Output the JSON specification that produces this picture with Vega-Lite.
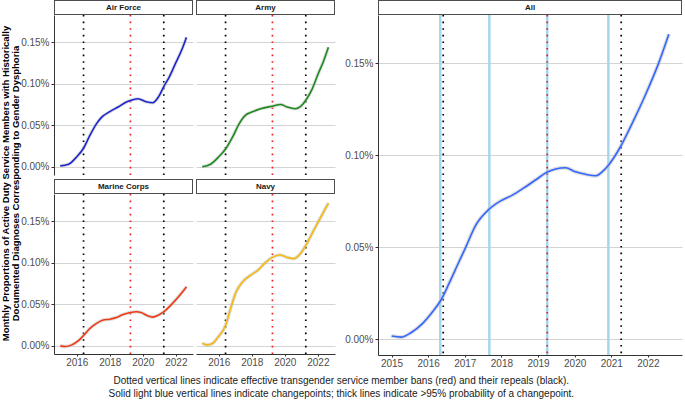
{
  "$schema": "https://vega.github.io/schema/vega-lite/v6.json",
  "background": "white",
  "padding": {"left": 0, "right": 1, "top": 0, "bottom": 0},
  "config": {
    "font": "Liberation Sans",
    "axis": {
      "labelFontSize": 10,
      "labelColor": "#4d4d4d",
      "domainColor": "#333333",
      "tickColor": "#333333",
      "tickSize": 3,
      "labelPadding": 2,
      "gridColor": "#d4d4d4",
      "gridWidth": 1
    },
    "axisX": {"tickSize": 2, "labelPadding": 1}
  },
  "title": {
    "text": [
      "Dotted vertical lines indicate effective transgender service member bans (red) and their repeals (black).",
      "Solid light blue vertical lines indicate changepoints; thick lines indicate >95% probability of a changepoint."
    ],
    "orient": "bottom",
    "anchor": "middle",
    "fontSize": 10,
    "fontWeight": "normal",
    "color": "#1a1a1a",
    "lineHeight": 13,
    "offset": 8
  },
  "datasets": {
    "panels": [
      {"panel": "Air Force"},
      {"panel": "Army"},
      {"panel": "Marine Corps"},
      {"panel": "Navy"},
      {"panel": "All"}
    ],
    "events": [
      {"year": 2016.41, "kind": "repeal"},
      {"year": 2019.25, "kind": "ban"},
      {"year": 2021.27, "kind": "repeal"}
    ],
    "changepoints": [
      {"year": 2016.33},
      {"year": 2017.67},
      {"year": 2019.25},
      {"year": 2020.92}
    ],
    "series": [
      {"panel": "Air Force", "year": 2015.0, "value": 0.001},
      {"panel": "Air Force", "year": 2015.5, "value": 0.003},
      {"panel": "Air Force", "year": 2016.0, "value": 0.012},
      {"panel": "Air Force", "year": 2016.4, "value": 0.022},
      {"panel": "Air Force", "year": 2016.8, "value": 0.038},
      {"panel": "Air Force", "year": 2017.2, "value": 0.052},
      {"panel": "Air Force", "year": 2017.5, "value": 0.0595},
      {"panel": "Air Force", "year": 2018.0, "value": 0.0664},
      {"panel": "Air Force", "year": 2018.5, "value": 0.072},
      {"panel": "Air Force", "year": 2019.0, "value": 0.078},
      {"panel": "Air Force", "year": 2019.25, "value": 0.080},
      {"panel": "Air Force", "year": 2019.7, "value": 0.082},
      {"panel": "Air Force", "year": 2020.2, "value": 0.0784},
      {"panel": "Air Force", "year": 2020.6, "value": 0.0772},
      {"panel": "Air Force", "year": 2020.96, "value": 0.0845},
      {"panel": "Air Force", "year": 2021.28, "value": 0.097},
      {"panel": "Air Force", "year": 2021.6, "value": 0.108},
      {"panel": "Air Force", "year": 2022.0, "value": 0.1255},
      {"panel": "Air Force", "year": 2022.36, "value": 0.141},
      {"panel": "Air Force", "year": 2022.64, "value": 0.156},
      {"panel": "Army", "year": 2015.0, "value": 0.000},
      {"panel": "Army", "year": 2015.5, "value": 0.003},
      {"panel": "Army", "year": 2016.0, "value": 0.012},
      {"panel": "Army", "year": 2016.4, "value": 0.021},
      {"panel": "Army", "year": 2016.84, "value": 0.036},
      {"panel": "Army", "year": 2017.24, "value": 0.052},
      {"panel": "Army", "year": 2017.64, "value": 0.0625},
      {"panel": "Army", "year": 2018.0, "value": 0.066},
      {"panel": "Army", "year": 2018.54, "value": 0.070},
      {"panel": "Army", "year": 2019.24, "value": 0.073},
      {"panel": "Army", "year": 2019.74, "value": 0.075},
      {"panel": "Army", "year": 2020.14, "value": 0.072},
      {"panel": "Army", "year": 2020.64, "value": 0.070},
      {"panel": "Army", "year": 2020.98, "value": 0.073},
      {"panel": "Army", "year": 2021.3, "value": 0.081},
      {"panel": "Army", "year": 2021.64, "value": 0.093},
      {"panel": "Army", "year": 2022.04, "value": 0.113},
      {"panel": "Army", "year": 2022.34, "value": 0.127},
      {"panel": "Army", "year": 2022.64, "value": 0.144},
      {"panel": "Marine Corps", "year": 2015.0, "value": 0.000},
      {"panel": "Marine Corps", "year": 2015.3, "value": -0.001},
      {"panel": "Marine Corps", "year": 2015.7, "value": 0.001},
      {"panel": "Marine Corps", "year": 2016.1, "value": 0.006},
      {"panel": "Marine Corps", "year": 2016.4, "value": 0.012},
      {"panel": "Marine Corps", "year": 2016.8, "value": 0.021},
      {"panel": "Marine Corps", "year": 2017.2, "value": 0.027},
      {"panel": "Marine Corps", "year": 2017.6, "value": 0.031},
      {"panel": "Marine Corps", "year": 2018.0, "value": 0.032},
      {"panel": "Marine Corps", "year": 2018.4, "value": 0.034},
      {"panel": "Marine Corps", "year": 2018.8, "value": 0.0375},
      {"panel": "Marine Corps", "year": 2019.24, "value": 0.040},
      {"panel": "Marine Corps", "year": 2019.6, "value": 0.041},
      {"panel": "Marine Corps", "year": 2019.9, "value": 0.040},
      {"panel": "Marine Corps", "year": 2020.3, "value": 0.036},
      {"panel": "Marine Corps", "year": 2020.6, "value": 0.0345},
      {"panel": "Marine Corps", "year": 2020.96, "value": 0.037},
      {"panel": "Marine Corps", "year": 2021.28, "value": 0.041},
      {"panel": "Marine Corps", "year": 2021.7, "value": 0.049},
      {"panel": "Marine Corps", "year": 2022.2, "value": 0.060},
      {"panel": "Marine Corps", "year": 2022.64, "value": 0.071},
      {"panel": "Navy", "year": 2015.0, "value": 0.003},
      {"panel": "Navy", "year": 2015.3, "value": 0.001},
      {"panel": "Navy", "year": 2015.64, "value": 0.003},
      {"panel": "Navy", "year": 2015.94, "value": 0.010},
      {"panel": "Navy", "year": 2016.4, "value": 0.024},
      {"panel": "Navy", "year": 2016.74, "value": 0.0465},
      {"panel": "Navy", "year": 2017.04, "value": 0.0645},
      {"panel": "Navy", "year": 2017.44, "value": 0.077},
      {"panel": "Navy", "year": 2018.0, "value": 0.086},
      {"panel": "Navy", "year": 2018.34, "value": 0.0905},
      {"panel": "Navy", "year": 2018.84, "value": 0.1005},
      {"panel": "Navy", "year": 2019.24, "value": 0.1065},
      {"panel": "Navy", "year": 2019.7, "value": 0.1095},
      {"panel": "Navy", "year": 2020.14, "value": 0.1065},
      {"panel": "Navy", "year": 2020.54, "value": 0.105},
      {"panel": "Navy", "year": 2020.94, "value": 0.111},
      {"panel": "Navy", "year": 2021.3, "value": 0.122},
      {"panel": "Navy", "year": 2021.64, "value": 0.135},
      {"panel": "Navy", "year": 2022.04, "value": 0.150},
      {"panel": "Navy", "year": 2022.64, "value": 0.172},
      {"panel": "All", "year": 2015.0, "value": 0.0018},
      {"panel": "All", "year": 2015.26, "value": 0.0012},
      {"panel": "All", "year": 2015.53, "value": 0.0036},
      {"panel": "All", "year": 2015.85, "value": 0.0087},
      {"panel": "All", "year": 2016.12, "value": 0.015},
      {"panel": "All", "year": 2016.35, "value": 0.0214},
      {"panel": "All", "year": 2016.57, "value": 0.0304},
      {"panel": "All", "year": 2016.8, "value": 0.0404},
      {"panel": "All", "year": 2017.03, "value": 0.0503},
      {"panel": "All", "year": 2017.3, "value": 0.0621},
      {"panel": "All", "year": 2017.66, "value": 0.0707},
      {"panel": "All", "year": 2017.98, "value": 0.0753},
      {"panel": "All", "year": 2018.3, "value": 0.0784},
      {"panel": "All", "year": 2018.6, "value": 0.0822},
      {"panel": "All", "year": 2018.93, "value": 0.0866},
      {"panel": "All", "year": 2019.24, "value": 0.0908},
      {"panel": "All", "year": 2019.48, "value": 0.0926},
      {"panel": "All", "year": 2019.75, "value": 0.0933},
      {"panel": "All", "year": 2020.02, "value": 0.0911},
      {"panel": "All", "year": 2020.3, "value": 0.0897},
      {"panel": "All", "year": 2020.57, "value": 0.0889},
      {"panel": "All", "year": 2020.8, "value": 0.092},
      {"panel": "All", "year": 2020.91, "value": 0.0944},
      {"panel": "All", "year": 2021.25, "value": 0.1047},
      {"panel": "All", "year": 2021.57, "value": 0.1174},
      {"panel": "All", "year": 2021.93, "value": 0.1328},
      {"panel": "All", "year": 2022.29, "value": 0.150},
      {"panel": "All", "year": 2022.57, "value": 0.1658}
    ]
  },
  "spacing": 9,
  "hconcat": [
    {
      "title": {
        "text": [
          "Monthly Proportions of Active Duty Service Members with Historically",
          "Documented Diagnoses Corresponding to Gender Dysphoria"
        ],
        "orient": "left",
        "anchor": "middle",
        "fontSize": 9.5,
        "fontWeight": "bold",
        "color": "#000000",
        "lineHeight": 10.5,
        "offset": 0
      },
      "spacing": 4,
      "vconcat": [
        {
          "spacing": 3,
          "hconcat": [
            {
              "spacing": -1,
              "vconcat": [
                {
                  "width": 139, "height": 15,
                  "data": {"name": "panels"},
                  "transform": [{"filter": "datum.panel === 'Air Force'"}],
                  "view": {"stroke": null},
                  "layer": [
                    {"mark": {"type": "rect", "fill": "white", "stroke": "#4d4d4d", "strokeWidth": 2, "clip": true}, "encoding": {}},
                    {"mark": {"type": "text", "fontSize": 8, "fontWeight": "bold", "color": "#1a1a1a"}, "encoding": {"text": {"field": "panel", "type": "nominal"}}}
                  ]
                },
                {
                  "width": 139, "height": 160,
                  "view": {"stroke": null},
                  "layer": [
                    {
                      "data": {"name": "events"},
                      "mark": {"type": "rule", "strokeDash": [1.6, 5], "strokeWidth": 1.7, "clip": true},
                      "encoding": {
                        "x": {"field": "year", "type": "quantitative", "scale": {"domain": [2014.62, 2023.04], "nice": false, "zero": false}, "axis": null},
                        "color": {"field": "kind", "type": "nominal", "scale": {"domain": ["ban", "repeal"], "range": ["#f01e1e", "#000000"]}, "legend": null}
                      }
                    },
                    {
                      "data": {"name": "series"},
                      "transform": [{"filter": "datum.panel === 'Air Force'"}],
                      "mark": {"type": "line", "interpolate": "monotone", "color": "#bdbdbd", "strokeWidth": 3.5, "opacity": 0.5, "clip": true},
                      "encoding": {
                        "x": {"field": "year", "type": "quantitative"},
                        "y": {"field": "value", "type": "quantitative", "scale": {"domain": [-0.010, 0.183], "nice": false, "zero": false},
                          "axis": {"values": [0, 0.05, 0.1, 0.15], "labelExpr": "format(datum.value, '.2f') + '%'", "title": null, "grid": true}}
                      }
                    },
                    {
                      "data": {"name": "series"},
                      "transform": [{"filter": "datum.panel === 'Air Force'"}],
                      "mark": {"type": "line", "interpolate": "monotone", "color": "#1c24cf", "strokeWidth": 1.6, "clip": true},
                      "encoding": {
                        "x": {"field": "year", "type": "quantitative"},
                        "y": {"field": "value", "type": "quantitative"}
                      }
                    }
                  ]
                }
              ]
            },
            {
              "spacing": -1,
              "vconcat": [
                {
                  "width": 139, "height": 15,
                  "data": {"name": "panels"},
                  "transform": [{"filter": "datum.panel === 'Army'"}],
                  "view": {"stroke": null},
                  "layer": [
                    {"mark": {"type": "rect", "fill": "white", "stroke": "#4d4d4d", "strokeWidth": 2, "clip": true}, "encoding": {}},
                    {"mark": {"type": "text", "fontSize": 8, "fontWeight": "bold", "color": "#1a1a1a"}, "encoding": {"text": {"field": "panel", "type": "nominal"}}}
                  ]
                },
                {
                  "width": 139, "height": 160,
                  "view": {"stroke": null},
                  "layer": [
                    {
                      "data": {"name": "events"},
                      "mark": {"type": "rule", "strokeDash": [1.6, 5], "strokeWidth": 1.7, "clip": true},
                      "encoding": {
                        "x": {"field": "year", "type": "quantitative", "scale": {"domain": [2014.62, 2023.04], "nice": false, "zero": false}, "axis": null},
                        "color": {"field": "kind", "type": "nominal", "scale": {"domain": ["ban", "repeal"], "range": ["#f01e1e", "#000000"]}, "legend": null}
                      }
                    },
                    {
                      "data": {"name": "series"},
                      "transform": [{"filter": "datum.panel === 'Army'"}],
                      "mark": {"type": "line", "interpolate": "monotone", "color": "#bdbdbd", "strokeWidth": 3.5, "opacity": 0.5, "clip": true},
                      "encoding": {
                        "x": {"field": "year", "type": "quantitative"},
                        "y": {"field": "value", "type": "quantitative", "scale": {"domain": [-0.010, 0.183], "nice": false, "zero": false},
                          "axis": {"values": [0, 0.05, 0.1, 0.15], "labels": false, "ticks": false, "domain": false, "title": null, "grid": true, "minExtent": 0, "maxExtent": 0}}
                      }
                    },
                    {
                      "data": {"name": "series"},
                      "transform": [{"filter": "datum.panel === 'Army'"}],
                      "mark": {"type": "line", "interpolate": "monotone", "color": "#1e8a1e", "strokeWidth": 1.6, "clip": true},
                      "encoding": {
                        "x": {"field": "year", "type": "quantitative"},
                        "y": {"field": "value", "type": "quantitative"}
                      }
                    }
                  ]
                }
              ]
            }
          ]
        },
        {
          "spacing": 3,
          "hconcat": [
            {
              "spacing": -1,
              "vconcat": [
                {
                  "width": 139, "height": 15,
                  "data": {"name": "panels"},
                  "transform": [{"filter": "datum.panel === 'Marine Corps'"}],
                  "view": {"stroke": null},
                  "layer": [
                    {"mark": {"type": "rect", "fill": "white", "stroke": "#4d4d4d", "strokeWidth": 2, "clip": true}, "encoding": {}},
                    {"mark": {"type": "text", "fontSize": 8, "fontWeight": "bold", "color": "#1a1a1a"}, "encoding": {"text": {"field": "panel", "type": "nominal"}}}
                  ]
                },
                {
                  "width": 139, "height": 160,
                  "view": {"stroke": null},
                  "layer": [
                    {
                      "data": {"name": "events"},
                      "mark": {"type": "rule", "strokeDash": [1.6, 5], "strokeWidth": 1.7, "clip": true},
                      "encoding": {
                        "x": {"field": "year", "type": "quantitative", "scale": {"domain": [2014.62, 2023.04], "nice": false, "zero": false},
                          "axis": {"values": [2016, 2018, 2020, 2022], "format": "d", "title": null, "grid": false}},
                        "color": {"field": "kind", "type": "nominal", "scale": {"domain": ["ban", "repeal"], "range": ["#f01e1e", "#000000"]}, "legend": null}
                      }
                    },
                    {
                      "data": {"name": "series"},
                      "transform": [{"filter": "datum.panel === 'Marine Corps'"}],
                      "mark": {"type": "line", "interpolate": "monotone", "color": "#bdbdbd", "strokeWidth": 3.5, "opacity": 0.5, "clip": true},
                      "encoding": {
                        "x": {"field": "year", "type": "quantitative"},
                        "y": {"field": "value", "type": "quantitative", "scale": {"domain": [-0.010, 0.183], "nice": false, "zero": false},
                          "axis": {"values": [0, 0.05, 0.1, 0.15], "labelExpr": "format(datum.value, '.2f') + '%'", "title": null, "grid": true}}
                      }
                    },
                    {
                      "data": {"name": "series"},
                      "transform": [{"filter": "datum.panel === 'Marine Corps'"}],
                      "mark": {"type": "line", "interpolate": "monotone", "color": "#ef3b14", "strokeWidth": 1.6, "clip": true},
                      "encoding": {
                        "x": {"field": "year", "type": "quantitative"},
                        "y": {"field": "value", "type": "quantitative"}
                      }
                    }
                  ]
                }
              ]
            },
            {
              "spacing": -1,
              "vconcat": [
                {
                  "width": 139, "height": 15,
                  "data": {"name": "panels"},
                  "transform": [{"filter": "datum.panel === 'Navy'"}],
                  "view": {"stroke": null},
                  "layer": [
                    {"mark": {"type": "rect", "fill": "white", "stroke": "#4d4d4d", "strokeWidth": 2, "clip": true}, "encoding": {}},
                    {"mark": {"type": "text", "fontSize": 8, "fontWeight": "bold", "color": "#1a1a1a"}, "encoding": {"text": {"field": "panel", "type": "nominal"}}}
                  ]
                },
                {
                  "width": 139, "height": 160,
                  "view": {"stroke": null},
                  "layer": [
                    {
                      "data": {"name": "events"},
                      "mark": {"type": "rule", "strokeDash": [1.6, 5], "strokeWidth": 1.7, "clip": true},
                      "encoding": {
                        "x": {"field": "year", "type": "quantitative", "scale": {"domain": [2014.62, 2023.04], "nice": false, "zero": false},
                          "axis": {"values": [2016, 2018, 2020, 2022], "format": "d", "title": null, "grid": false}},
                        "color": {"field": "kind", "type": "nominal", "scale": {"domain": ["ban", "repeal"], "range": ["#f01e1e", "#000000"]}, "legend": null}
                      }
                    },
                    {
                      "data": {"name": "series"},
                      "transform": [{"filter": "datum.panel === 'Navy'"}],
                      "mark": {"type": "line", "interpolate": "monotone", "color": "#bdbdbd", "strokeWidth": 3.5, "opacity": 0.5, "clip": true},
                      "encoding": {
                        "x": {"field": "year", "type": "quantitative"},
                        "y": {"field": "value", "type": "quantitative", "scale": {"domain": [-0.010, 0.183], "nice": false, "zero": false},
                          "axis": {"values": [0, 0.05, 0.1, 0.15], "labels": false, "ticks": false, "domain": false, "title": null, "grid": true, "minExtent": 0, "maxExtent": 0}}
                      }
                    },
                    {
                      "data": {"name": "series"},
                      "transform": [{"filter": "datum.panel === 'Navy'"}],
                      "mark": {"type": "line", "interpolate": "monotone", "color": "#f6b90e", "strokeWidth": 1.6, "clip": true},
                      "encoding": {
                        "x": {"field": "year", "type": "quantitative"},
                        "y": {"field": "value", "type": "quantitative"}
                      }
                    }
                  ]
                }
              ]
            }
          ]
        }
      ]
    },
    {
      "spacing": -1,
      "vconcat": [
        {
          "width": 304, "height": 15,
          "data": {"name": "panels"},
          "transform": [{"filter": "datum.panel === 'All'"}],
          "view": {"stroke": null},
          "layer": [
            {"mark": {"type": "rect", "fill": "white", "stroke": "#4d4d4d", "strokeWidth": 2, "clip": true}, "encoding": {}},
            {"mark": {"type": "text", "fontSize": 8, "fontWeight": "bold", "color": "#1a1a1a"}, "encoding": {"text": {"field": "panel", "type": "nominal"}}}
          ]
        },
        {
          "width": 304, "height": 340,
          "view": {"stroke": null},
          "layer": [
            {
              "data": {"name": "changepoints"},
              "mark": {"type": "rule", "color": "#a6d6ee", "strokeWidth": 2.5, "clip": true},
              "encoding": {
                "x": {"field": "year", "type": "quantitative", "scale": {"domain": [2014.63, 2022.93], "nice": false, "zero": false},
                  "axis": {"values": [2015, 2016, 2017, 2018, 2019, 2020, 2021, 2022], "format": "d", "title": null, "grid": false}}
              }
            },
            {
              "data": {"name": "events"},
              "mark": {"type": "rule", "strokeDash": [1.6, 5], "strokeWidth": 1.7, "clip": true},
              "encoding": {
                "x": {"field": "year", "type": "quantitative"},
                "color": {"field": "kind", "type": "nominal", "scale": {"domain": ["ban", "repeal"], "range": ["#f01e1e", "#000000"]}, "legend": null}
              }
            },
            {
              "data": {"name": "series"},
              "transform": [{"filter": "datum.panel === 'All'"}],
              "mark": {"type": "line", "interpolate": "monotone", "color": "#bdbdbd", "strokeWidth": 4, "opacity": 0.5, "clip": true},
              "encoding": {
                "x": {"field": "year", "type": "quantitative"},
                "y": {"field": "value", "type": "quantitative", "scale": {"domain": [-0.0085, 0.1763], "nice": false, "zero": false},
                  "axis": {"values": [0, 0.05, 0.1, 0.15], "labelExpr": "format(datum.value, '.2f') + '%'", "title": null, "grid": true}}
              }
            },
            {
              "data": {"name": "series"},
              "transform": [{"filter": "datum.panel === 'All'"}],
              "mark": {"type": "line", "interpolate": "monotone", "color": "#3366ff", "strokeWidth": 1.6, "clip": true},
              "encoding": {
                "x": {"field": "year", "type": "quantitative"},
                "y": {"field": "value", "type": "quantitative"}
              }
            }
          ]
        }
      ]
    }
  ]
}
